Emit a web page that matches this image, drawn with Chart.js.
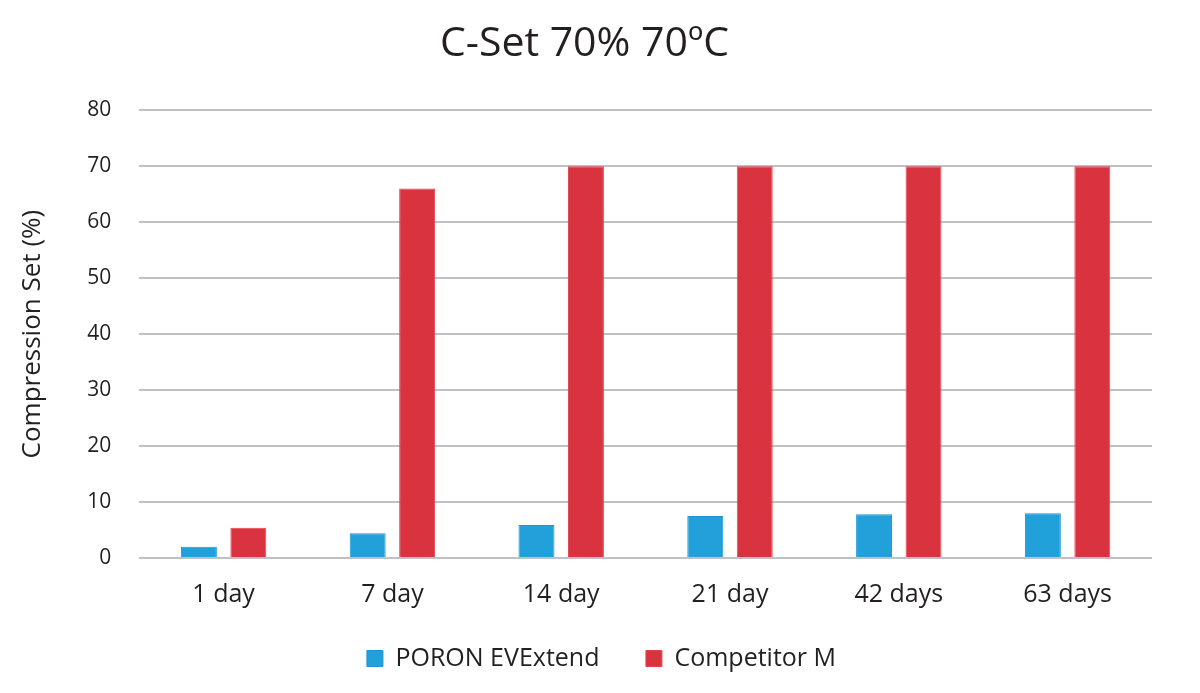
<!DOCTYPE html>
<html>
<head>
<meta charset="utf-8">
<script src="https://cdn.jsdelivr.net/npm/chart.js@4/dist/chart.umd.min.js"></script>
<style>
  html, body { margin: 0; padding: 0; background: #fff; }
  #wrap { width: 1200px; height: 693px; }
</style>
</head>
<body>
<div id="wrap"><canvas id="myChart" width="1200" height="693"></canvas></div>
<script>
// chart data
const categories = ["1 day", "7 day", "14 day", "21 day", "42 days", "63 days"];
const poronValues = [2.0, 4.4, 5.9, 7.5, 7.8, 8.0];
const competitorValues = [5.4, 66.0, 70.0, 70.0, 70.0, 70.0];
const seriesNames = ["PORON EVExtend", "Competitor M"];
const yTicks = [0, 10, 20, 30, 40, 50, 60, 70, 80];

const fontName = "'Open Sans', 'Noto Sans', sans-serif";
const textColor = "#231f20";

// legend sits a little right of the plot centre in the original
const legendShift = {
  id: "legendShift",
  afterLayout: (chart) => {
    chart.legend.left += 17;
    chart.legend.right += 17;
  },
};

const myChart = new Chart(document.getElementById("myChart"), {
  type: "bar",
  data: {
    labels: categories,
    datasets: [
      {
        label: seriesNames[0],
        data: poronValues,
        backgroundColor: "#21a0da",
        borderColor: "#1896d3",
        borderWidth: 1,
      },
      {
        label: seriesNames[1],
        data: competitorValues,
        backgroundColor: "#da3340",
        borderColor: "#e3434f",
        borderWidth: 1,
      },
    ],
  },
  plugins: [legendShift],
  options: {
    responsive: false,
    animation: false,
    categoryPercentage: 0.586,
    barPercentage: 0.727,
    layout: { padding: { left: 17, right: 48, top: 0, bottom: 12 } },
    plugins: {
      title: {
        display: true,
        text: "C-Set 70% 70ºC",
        color: textColor,
        font: { family: fontName, size: 41, weight: "normal" },
        padding: { top: 20, bottom: 41 },
      },
      legend: {
        position: "bottom",
        labels: {
          color: textColor,
          font: { family: fontName, size: 25 },
          boxWidth: 16,
          boxHeight: 16,
          padding: 14,
          // wider gap between the two legend items
          generateLabels: (chart) => {
            const items = Chart.defaults.plugins.legend.labels.generateLabels(chart);
            items[0].text = items[0].text + "     ";
            return items;
          },
        },
      },
      tooltip: { enabled: false },
    },
    scales: {
      y: {
        min: 0,
        max: 80,
        afterBuildTicks: (axis) => { axis.ticks = yTicks.map(v => ({ value: v })); },
        border: { display: false },
        grid: { color: "#c1c1c5", lineWidth: 2, drawTicks: false },
        ticks: {
          color: textColor,
          font: { family: fontName, size: 21 },
          padding: 28,
        },
        title: {
          display: true,
          text: "Compression Set (%)",
          color: textColor,
          font: { family: fontName, size: 26 },
          padding: { top: 0, bottom: 11 },
        },
      },
      x: {
        border: { display: false },
        grid: { display: false, drawTicks: false },
        ticks: {
          color: textColor,
          font: { family: fontName, size: 25 },
          padding: 22,
        },
      },
    },
  },
});
</script>
</body>
</html>
